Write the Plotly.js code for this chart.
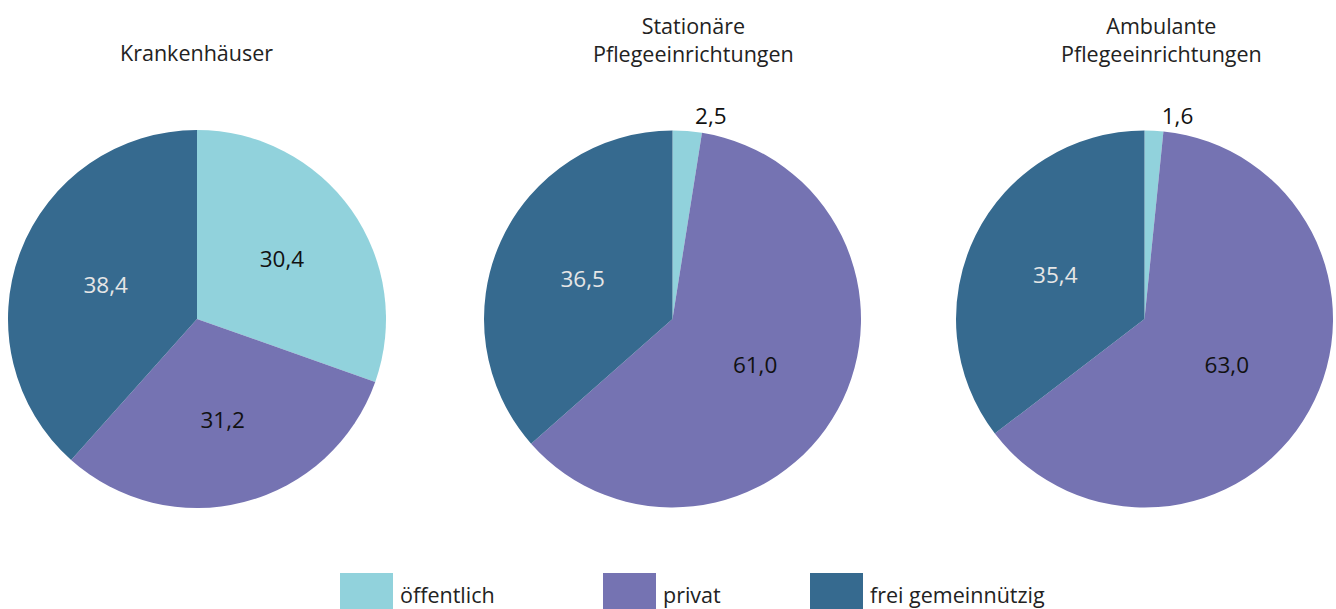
<!DOCTYPE html>
<html>
<head>
<meta charset="utf-8">
<script src="https://cdn.plot.ly/plotly-3.0.1.min.js"></script>
<style>
html,body{margin:0;padding:0;background:#fff;}
#chart{width:1336px;height:609px;}
</style>
</head>
<body>
<div id="chart"></div>
<script>
const categories = ['öffentlich', 'privat', 'frei gemeinnützig'];
const chartTitles = ['Krankenhäuser', 'Stationäre<br>Pflegeeinrichtungen', 'Ambulante<br>Pflegeeinrichtungen'];
const krankenhaeuser = [30.4, 31.2, 38.4];
const stationaer = [2.5, 61.0, 36.5];
const ambulant = [1.6, 63.0, 35.4];
const seriesValues = [krankenhaeuser, stationaer, ambulant];

const colors = ['#91D2DC', '#7573B2', '#366A8F'];
const textColors = ['#111111', '#111111', '#e6e6e6'];
const FONT = '"Open Sans", "Noto Sans", sans-serif';

const W = 1336, H = 609;
const xDomains = [[8 / W, 386 / W], [484 / W, 861 / W], [956 / W, 1333 / W]];
const yDomain = [1 - 508 / H, 1 - 130 / H];
const titleX = [196.5 / W, 693 / W, 1161 / W];

const data = seriesValues.map((vals, i) => ({
  type: 'pie',
  labels: categories,
  values: vals,
  sort: false,
  direction: 'clockwise',
  rotation: 0,
  domain: {x: xDomains[i], y: yDomain},
  marker: {colors: colors, line: {width: 0}},
  texttemplate: '%{value:.1f}',
  textposition: vals.map(v => v < 5 ? 'outside' : 'inside'),
  insidetextorientation: 'horizontal',
  textfont: {family: FONT, size: 22.5, color: textColors},
  outsidetextfont: {family: FONT, size: 22.5, color: '#111111'},
  hoverinfo: 'none',
  showlegend: i === 0
}));

const annotations = chartTitles.map((t, i) => ({
  text: t,
  x: titleX[i],
  y: i === 0 ? 1 - 52 / H : 1 - 39 / H,
  xref: 'paper', yref: 'paper',
  xanchor: 'center', yanchor: 'middle',
  showarrow: false,
  font: {family: FONT, size: 21.5, color: '#222222'}
}));

const layout = {
  width: W, height: H,
  margin: {l: 0, r: 0, t: 0, b: 0},
  paper_bgcolor: '#ffffff',
  separators: ',.',
  showlegend: true,
  legend: {
    orientation: 'h',
    x: 300 / W, xanchor: 'left',
    y: 0, yanchor: 'bottom',
    entrywidth: 260,
    font: {family: FONT, size: 21.5, color: '#222222'},
    traceorder: 'normal'
  },
  annotations: annotations
};

Plotly.newPlot('chart', data, layout, {staticPlot: true, displayModeBar: false}).then(gd => {
  const targets = [340, 603, 810];
  const targetTop = 573;
  const sw = 53, sh = 36;
  gd.querySelectorAll('.legend [clip-path]').forEach(el => el.removeAttribute('clip-path'));
  const items = gd.querySelectorAll('.legend .traces');
  items.forEach((g, i) => {
    const p = g.querySelector('.legendpoints path');
    if (p) {
      p.setAttribute('d', 'M0,' + (-sh / 2) + 'H' + sw + 'V' + (sh / 2) + 'H0Z');
      p.setAttribute('transform', 'translate(0,0)');
    }
    const t = g.querySelector('text.legendtext');
    if (t) {
      t.setAttribute('x', sw + 7);
      t.setAttribute('transform', 'translate(0,4)');
      t.querySelectorAll('tspan').forEach(s => { if (s.getAttribute('x') !== null) s.setAttribute('x', sw + 7); });
    }
    const tr = g.getAttribute('transform') || 'translate(0,0)';
    const m = tr.match(/translate\(([-\d.e]+)[ ,]*([-\d.e]+)?\)/);
    const tx = m ? parseFloat(m[1]) : 0;
    const ty = m && m[2] ? parseFloat(m[2]) : 0;
    const r = p ? p.getBoundingClientRect() : {left: 0, top: 0};
    const dx = targets[i] - r.left;
    const dy = targetTop - r.top;
    g.setAttribute('transform', 'translate(' + (tx + dx) + ',' + (ty + dy) + ')');
  });
});
</script>
</body>
</html>
